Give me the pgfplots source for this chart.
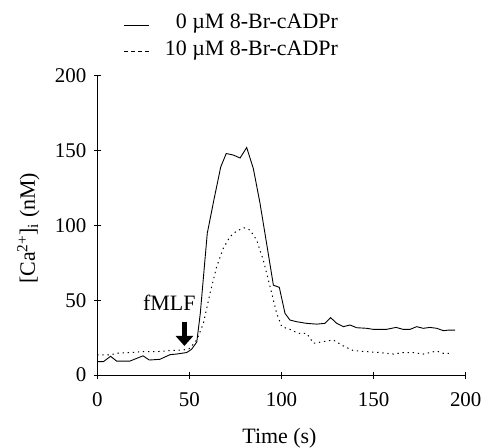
\documentclass[border=0pt]{standalone}
\usepackage{fontspec}
\setmainfont{Liberation Serif}
\usepackage{pgfplots}
\usepackage{pgfplotstable}
\pgfplotsset{compat=1.18}
\usetikzlibrary{arrows.meta}

% control, no antagonist
\pgfplotstableread{
t ca
0 8.9
3.3 8.9
7.2 12.5
10.5 9.3
17.7 9.3
24.8 12.8
28.2 10
34 10.5
39.5 13.6
43 14
48.5 15
51.2 17.2
54 22
55.9 41
59.7 94.7
63.3 117
67 139
70 148
73.8 147
77.5 145
81.1 152
84.7 138
88.3 115
91.9 88
95.6 60
98.8 58.6
101.9 41.2
104.6 36.7
108.2 35.6
113.7 34.5
119 34
123.6 34.5
126.7 38.3
130 34.5
133.6 32.3
137.2 33.4
140.8 31.6
146.2 31.2
149.8 30.5
157 30.5
162.2 31.8
166 30.5
169.8 30.5
173.4 32.3
177 31.2
180.6 31.8
184.3 31.2
187.9 29.6
190.6 30
194.2 30
}\zeroBr

% 10 uM 8-Br-cADPr
\pgfplotstableread{
t ca
0 13.4
6.9 13.4
10.5 14.5
17.7 15
25 15.6
32.2 15.6
39.5 16.3
46.7 16.7
50.3 17.8
54 23.4
57.6 34.5
61.2 54.6
64.8 72.4
68.4 84.6
72 92.4
75.6 96.2
79.6 98.4
82.9 96.9
86.5 90.2
90.1 76.8
93.8 59
97.4 41.2
100.1 32.3
104.6 30.5
109.1 27.8
113.7 27.8
117.3 21.2
122.7 22.3
128.1 23.4
133.6 19.4
139 16.3
146.2 15.6
153.5 15
160.7 14
166 15
171.5 15
177 14
184.3 16
187.9 14.5
192.4 14.5
}\tenBr

\begin{document}
\fontsize{22}{26}\selectfont
\begin{tikzpicture}
\useasboundingbox (-97.3bp,-73bp) rectangle (384.7bp,375bp);
\begin{axis}[
    scale only axis,
    width=368.4bp, height=299.3bp,
    xmin=0, xmax=200, ymin=0, ymax=200,
    axis x line=bottom, axis y line=left,
    axis line style={-, line width=0.9bp},
    tick align=center,
    major tick length=7bp,
    tick style={line width=0.9bp, black},
    xtick={0,50,100,150,200},
    ytick={0,50,100,150,200},
    /pgf/number format/assume math mode=true,
    ticklabel style={font=\fontsize{21}{25}\selectfont},
    xticklabel style={yshift=-7bp},
    xlabel={Time (s)},
    ylabel={[Ca\textsuperscript{2+}]\textsubscript{i} (nM)},
    every axis x label/.style={at={(axis description cs:0.4946,-0.228)}, anchor=base},
    every axis y label/.style={at={(axis description cs:-0.1868,0.49)}, rotate=90, anchor=center},
    legend cell align=right,
    legend image code/.code={\draw[#1] (0bp,-2bp) -- (25bp,-2bp);},
    legend style={draw=none, fill=none, at={(0.072,1.21)}, anchor=north west,
        inner sep=0pt, row sep=7bp, nodes={inner sep=1bp},
        font=\fontsize{22}{26}\selectfont,
        /tikz/every odd column/.append style={column sep=13bp}},
]
\addplot[black, line width=0.9bp] table[x=t, y=ca] {\zeroBr};
\addlegendentry{0 µM 8-Br-cADPr}
\addplot[black, line width=1bp, dash pattern=on 1.3bp off 3.8bp,
    legend image code/.code={\draw[black, line width=0.9bp, dash pattern=on 4bp off 3bp] (0bp,-2bp) -- (26bp,-2bp);}]
    table[x=t, y=ca] {\tenBr};
\addlegendentry{10 µM 8-Br-cADPr}

\node[anchor=base] at (axis cs:39.1,43.4) {fMLF};
\draw[-{Triangle[width=17bp,length=10bp]}, line width=5bp] (axis cs:47.3,35.6) -- (axis cs:47.3,19.4);
\end{axis}
\end{tikzpicture}
\end{document}
